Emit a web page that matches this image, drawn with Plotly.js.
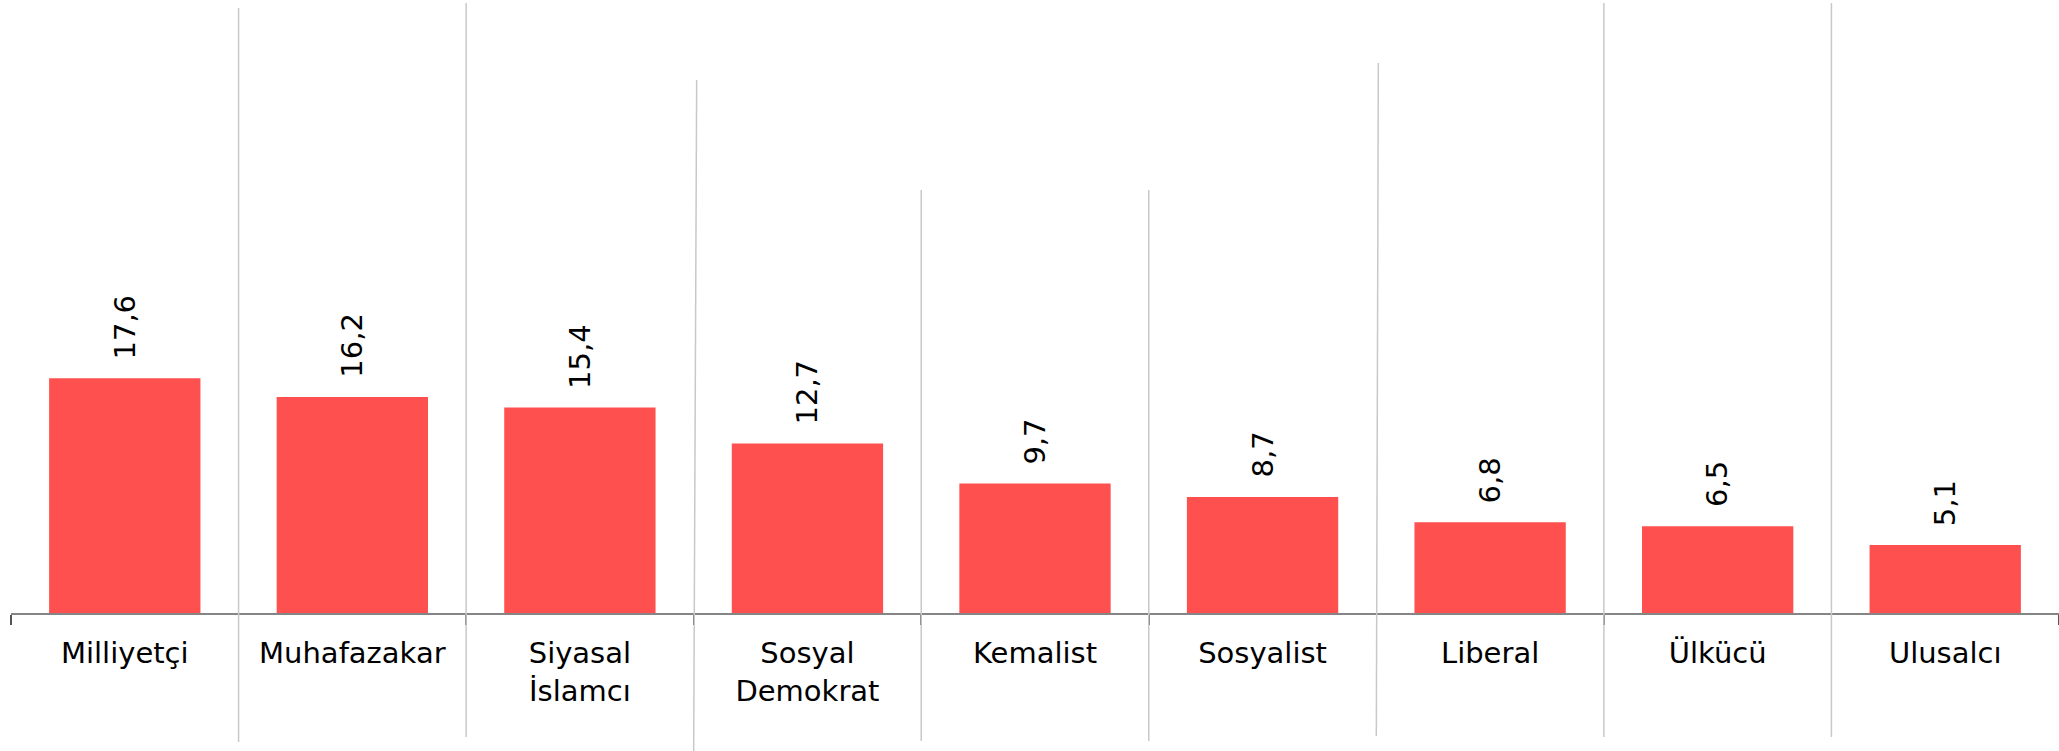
<!DOCTYPE html>
<html>
<head>
<meta charset="utf-8">
<script src="https://cdn.plot.ly/plotly-3.0.1.min.js"></script>
<style>html,body{margin:0;padding:0;background:#fff;}#chart{width:2059px;height:751px;}</style>
</head>
<body>
<div id="chart"></div>
<script>
// Data
const categories = ["Milliyetçi", "Muhafazakar", "Siyasal<br>İslamcı", "Sosyal<br>Demokrat", "Kemalist", "Sosyalist", "Liberal", "Ülkücü", "Ulusalcı"];
const values = [17.6, 16.2, 15.4, 12.7, 9.7, 8.7, 6.8, 6.5, 5.1];
const valueLabels = values.map(v => v.toFixed(1).replace('.', ','));

// Decorative separator lines between categories (pixel extents as seen in the picture)
const sepTopPx = [8, 3, 80, 190, 190, 63, 3, 3];
const sepBottomPx = [742, 737, 751, 741, 741, 736, 737, 737];
const sepTopShiftPx = [0, 0, 3, 0, 0, 2, 0, 0];

const W = 2059, H = 751;
const mL = 11, mR = 0, mT = 0, mB = 138;
const plotH = H - mT - mB;
const plotW = W - mL - mR;
const nCat = categories.length;

const shapes = sepTopPx.map((top, i) => {
  const xp = (i + 1) / nCat;
  return {
    type: 'line', xref: 'paper', yref: 'paper', layer: 'above',
    x0: xp, x1: xp + sepTopShiftPx[i] / plotW,
    y0: (plotH - sepBottomPx[i]) / plotH, y1: (plotH - top) / plotH,
    line: {color: '#c8c8c8', width: 1.5}
  };
});

const annotations = categories.map((c, i) => ({
  x: c, y: values[i], xref: 'x', yref: 'y',
  text: valueLabels[i], showarrow: false, textangle: -90,
  xanchor: 'center', yanchor: 'bottom', yshift: 17,
  font: {family: 'DejaVu Sans', size: 29, color: '#000'}
}));

const trace = {
  type: 'bar', x: categories, y: values, width: 0.665,
  marker: {color: '#FF5050', line: {width: 0}},
  hoverinfo: 'none'
};

const layout = {
  width: W, height: H,
  margin: {l: mL, r: mR, t: mT, b: mB, pad: 0},
  paper_bgcolor: '#fff', plot_bgcolor: '#fff',
  showlegend: false,
  font: {family: 'DejaVu Sans', size: 29, color: '#000'},
  xaxis: {
    type: 'category', range: [-0.5, nCat - 0.5],
    showline: true, linecolor: '#858585', linewidth: 1.5,
    ticks: 'outside', tickson: 'boundaries', ticklen: 10, tickcolor: '#555', tickwidth: 1.5,
    showgrid: false, zeroline: false,
    tickfont: {family: 'DejaVu Sans', size: 29, color: '#000'},
    ticklabelstandoff: 14,
    fixedrange: true
  },
  yaxis: {
    range: [0, plotH / 13.34], visible: false, showgrid: false, zeroline: false, fixedrange: true
  },
  shapes: shapes,
  annotations: annotations
};

Plotly.newPlot('chart', [trace], layout, {displayModeBar: false, staticPlot: true});
</script>
</body>
</html>
